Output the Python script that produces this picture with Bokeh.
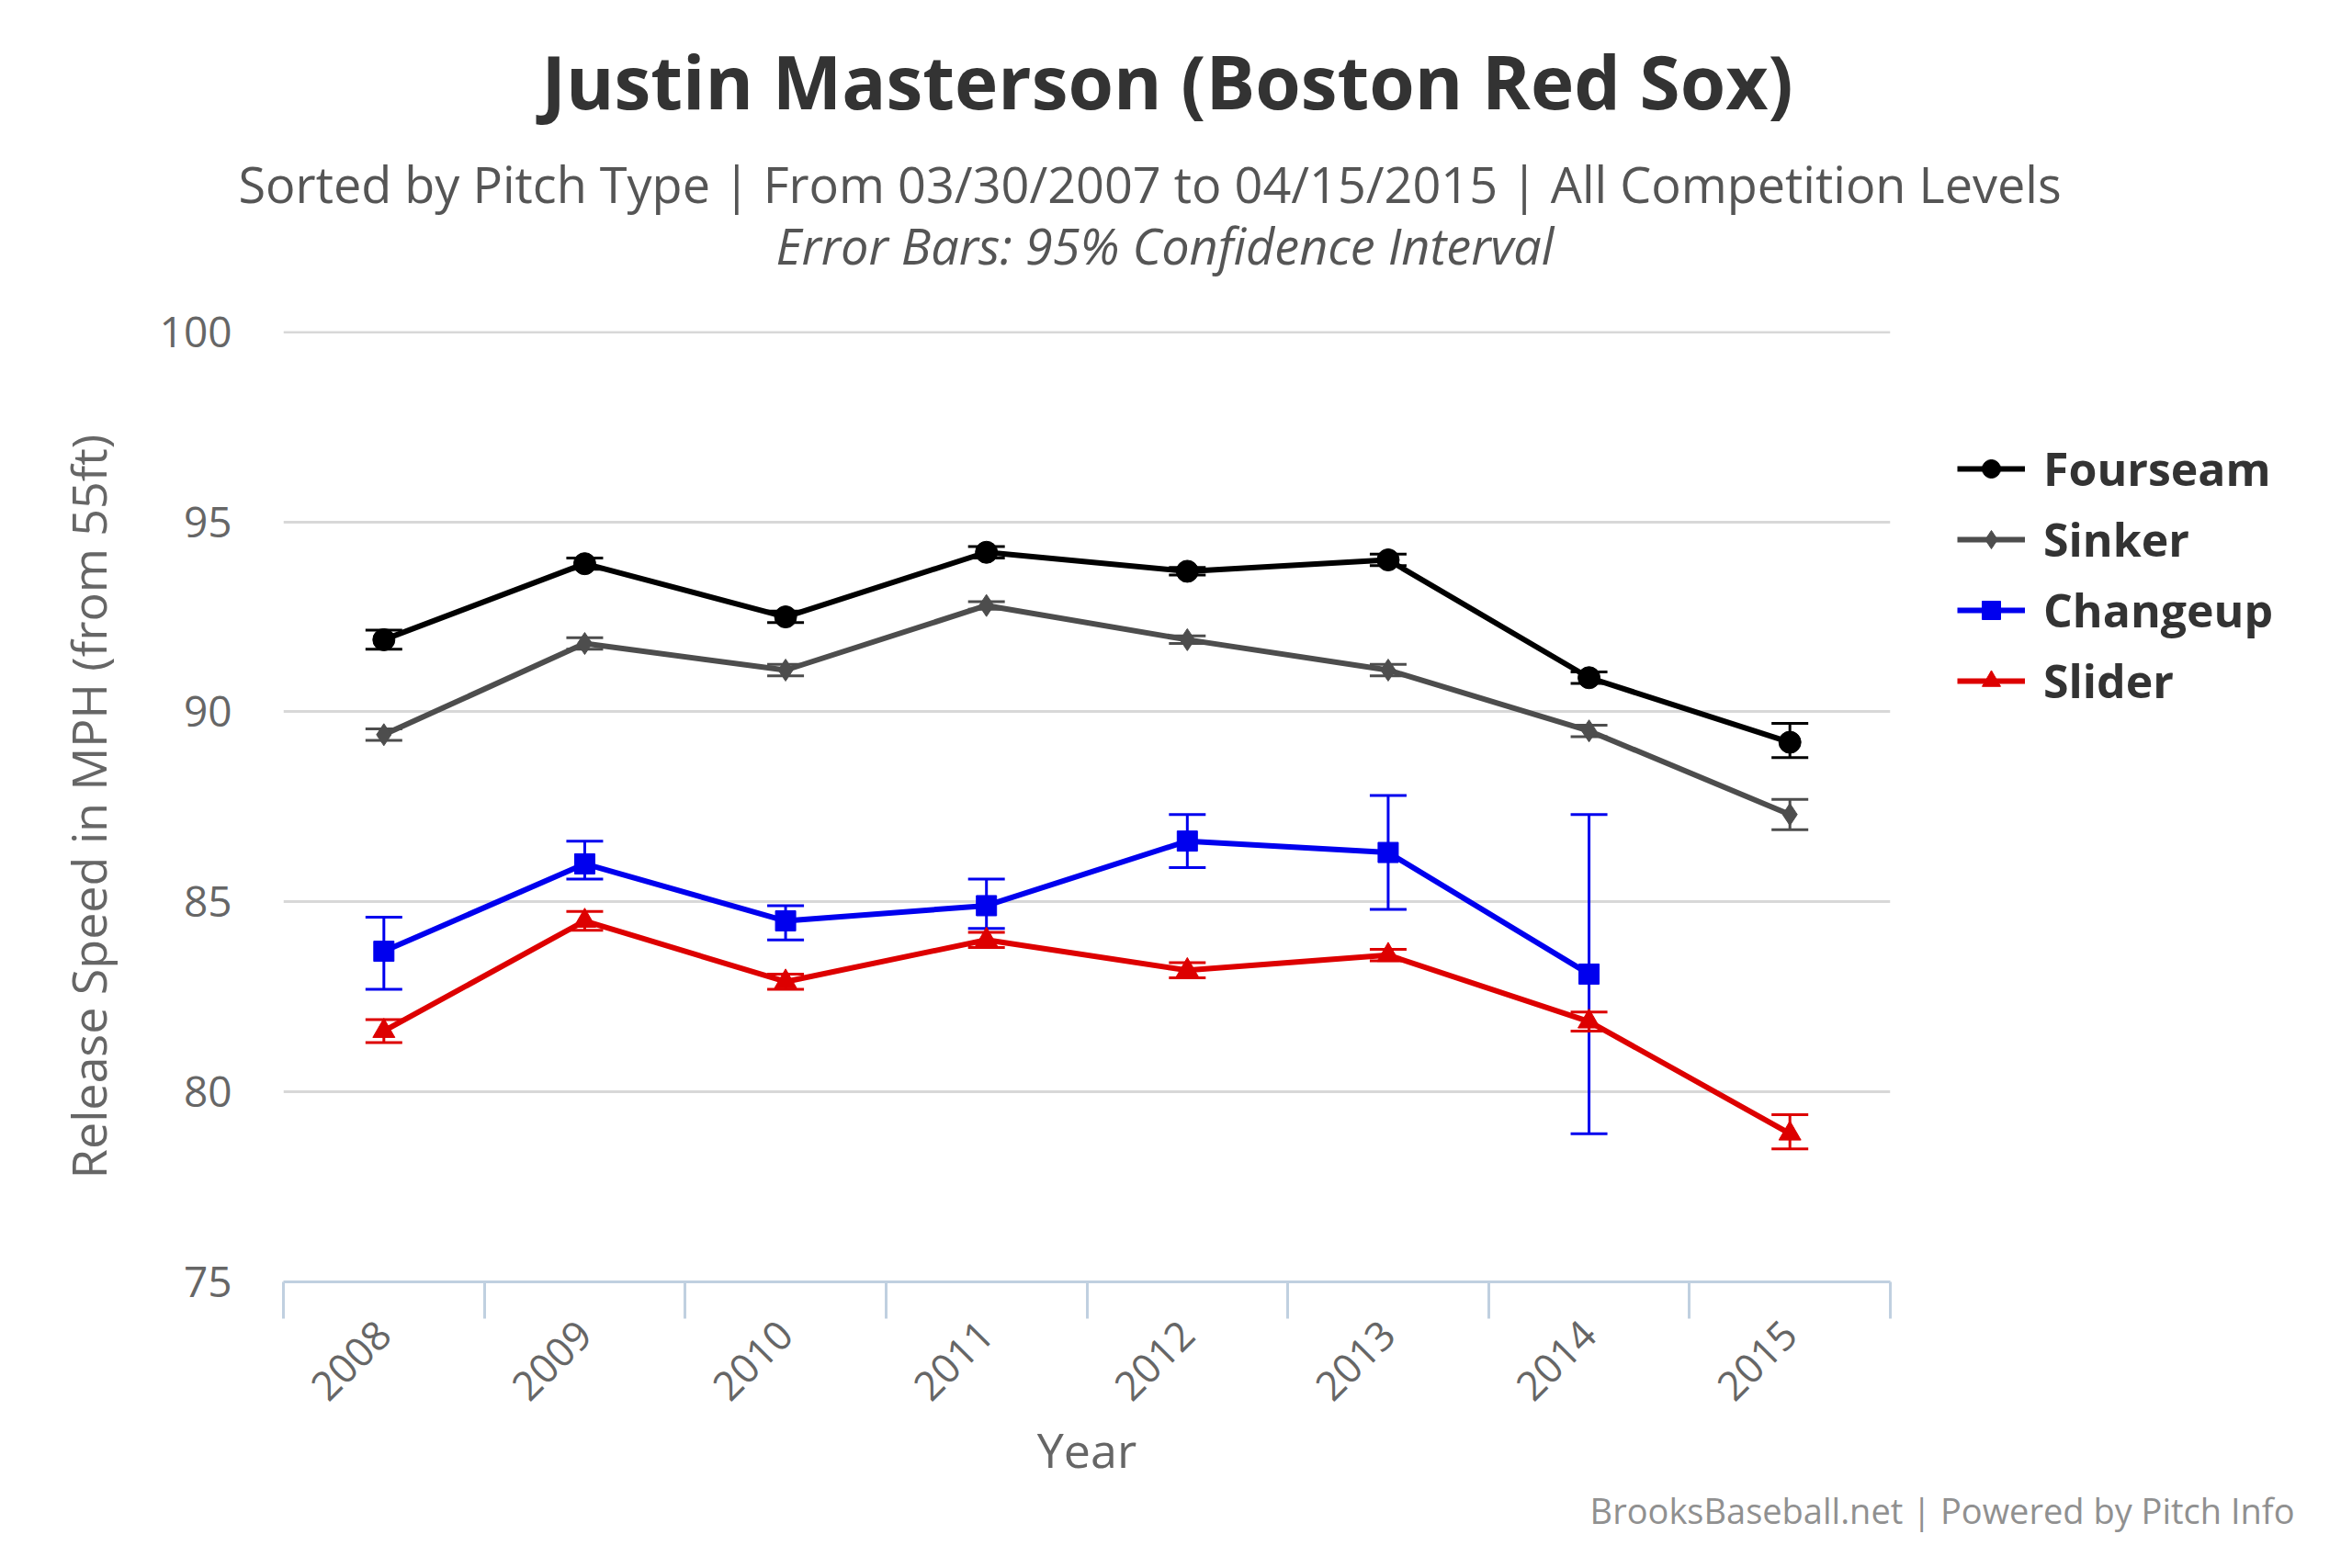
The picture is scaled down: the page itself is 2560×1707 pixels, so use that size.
from bokeh.plotting import figure
from bokeh.models import ColumnDataSource, Whisker, Legend, LegendItem, FixedTicker, Title
from bokeh.embed import file_html
from bokeh.resources import INLINE

years = [2008, 2009, 2010, 2011, 2012, 2013, 2014, 2015]
year_labels = ["2008", "2009", "2010", "2011", "2012", "2013", "2014", "2015"]

four = [91.9, 93.9, 92.5, 94.2, 93.7, 94.0, 90.9, 89.2]
four_hi = [92.15, 94.05, 92.65, 94.35, 93.8, 94.15, 91.05, 89.7]
four_lo = [91.65, 93.75, 92.35, 94.05, 93.6, 93.85, 90.75, 88.8]

sink = [89.4, 91.8, 91.1, 92.8, 91.9, 91.1, 89.5, 87.3]
sink_hi = [89.55, 91.95, 91.25, 92.9, 92.0, 91.25, 89.65, 87.7]
sink_lo = [89.25, 91.65, 90.95, 92.7, 91.8, 90.95, 89.35, 86.9]

ch_years = [2008, 2009, 2010, 2011, 2012, 2013, 2014]
chg = [83.7, 86.0, 84.5, 84.9, 86.6, 86.3, 83.1]
chg_hi = [84.6, 86.6, 84.9, 85.6, 87.3, 87.8, 87.3]
chg_lo = [82.7, 85.6, 84.0, 84.3, 85.9, 84.8, 78.9]

sl = [81.6, 84.5, 82.9, 84.0, 83.2, 83.6, 81.85, 78.9]
sl_hi = [81.9, 84.75, 83.1, 84.2, 83.4, 83.75, 82.1, 79.4]
sl_lo = [81.3, 84.25, 82.7, 83.8, 83.0, 83.45, 81.6, 78.5]

FONT = "Open Sans"
p = figure(frame_width=1749, frame_height=1035, output_backend="svg", toolbar_location=None,
           x_range=(2007.5, 2015.5), y_range=(75, 100.02),
           min_border_left=308, min_border_right=10, min_border_top=200, min_border_bottom=200)
p.outline_line_color = None
p.background_fill_color = "white"

p.add_layout(Title(text="Error Bars: 95% Confidence Interval", text_font=FONT, text_font_size="54px",
                   text_font_style="italic", text_color="#555555", align="left",
                   standoff=113, offset=536), "above")
p.add_layout(Title(text="Sorted by Pitch Type | From 03/30/2007 to 04/15/2015 | All Competition Levels",
                   text_font=FONT, text_font_size="54px", text_font_style="normal",
                   text_color="#555555", align="left", standoff=-130, offset=-49), "above")
p.add_layout(Title(text="Justin Masterson (Boston Red Sox)", text_font=FONT, text_font_size="80px",
                   text_font_style="bold", text_color="#333333", align="left",
                   standoff=60, offset=281), "above")
p.add_layout(Title(text="BrooksBaseball.net | Powered by Pitch Info", text_font=FONT,
                   text_font_size="38px", text_font_style="normal", text_color="#909090",
                   align="right", standoff=0, offset=-440), "below")

series = [
    ("Fourseam", years, four, four_hi, four_lo, "black", "circle", 24),
    ("Sinker", years, sink, sink_hi, sink_lo, "#4d4d4d", "diamond", 24),
    ("Changeup", ch_years, chg, chg_hi, chg_lo, "#0000ee", "square", 22),
    ("Slider", years, sl, sl_hi, sl_lo, "#dd0000", "triangle", 24),
]
items = []
for name, xs, ys, hi, lo, col, mk, sz in series:
    src = ColumnDataSource(dict(x=xs, y=ys, hi=hi, lo=lo))
    w = Whisker(source=src, base="x", upper="hi", lower="lo", line_color=col, line_width=3)
    w.upper_head.line_color = col
    w.lower_head.line_color = col
    w.upper_head.line_width = 3
    w.lower_head.line_width = 3
    w.upper_head.size = 40
    w.lower_head.size = 40
    p.add_layout(w)
    r1 = p.line("x", "y", source=src, line_color=col, line_width=6)
    r2 = p.scatter("x", "y", source=src, marker=mk, size=sz, fill_color=col, line_color=col)
    items.append(LegendItem(label=name, renderers=[r1, r2]))

leg = Legend(items=items, location=(73, 620), label_text_font=FONT, label_text_font_size="50px",
             label_text_font_style="bold", label_text_color="#333333", glyph_width=74,
             glyph_height=50, spacing=9, label_standoff=20, border_line_color=None,
             background_fill_alpha=0)
p.add_layout(leg, "right")

p.xaxis.ticker = FixedTicker(ticks=years, minor_ticks=[y - 0.5 for y in years] + [2015.5])
p.xaxis.major_label_overrides = {y: l for y, l in zip(years, year_labels)}
p.xaxis.major_label_orientation = 0.785
p.xaxis.major_tick_line_color = None
p.xaxis.minor_tick_line_color = "#C0D0E0"
p.xaxis.minor_tick_line_width = 3
p.xaxis.minor_tick_out = 40
p.xaxis.minor_tick_in = 0
p.xaxis.axis_line_color = "#C0D0E0"
p.xaxis.axis_line_width = 3
p.xaxis.major_label_text_font = FONT
p.xaxis.major_label_text_font_size = "44px"
p.xaxis.major_label_text_color = "#666666"
p.xaxis.major_label_standoff = 10
p.xaxis.axis_label = "Year"
p.xaxis.axis_label_text_font = FONT
p.xaxis.axis_label_text_font_size = "52px"
p.xaxis.axis_label_text_font_style = "normal"
p.xaxis.axis_label_text_color = "#666666"
p.xaxis.axis_label_standoff = 0

p.yaxis.ticker = FixedTicker(ticks=[75, 80, 85, 90, 95, 100])
p.yaxis.axis_line_color = None
p.yaxis.major_tick_line_color = None
p.yaxis.minor_tick_line_color = None
p.yaxis.major_label_text_font = FONT
p.yaxis.major_label_text_font_size = "46px"
p.yaxis.major_label_text_color = "#666666"
p.yaxis.major_label_standoff = 50
p.yaxis.axis_label = "Release Speed in MPH (from 55ft)"
p.yaxis.axis_label_text_font = FONT
p.yaxis.axis_label_text_font_size = "52px"
p.yaxis.axis_label_text_font_style = "normal"
p.yaxis.axis_label_text_color = "#666666"
p.yaxis.axis_label_standoff = 40

p.xgrid.grid_line_color = None
p.ygrid.ticker = FixedTicker(ticks=[80, 85, 90, 95, 100])
p.ygrid.grid_line_color = "#D8D8D8"
p.ygrid.grid_line_width = 3

open("out.html", "w").write(file_html(p, INLINE))
